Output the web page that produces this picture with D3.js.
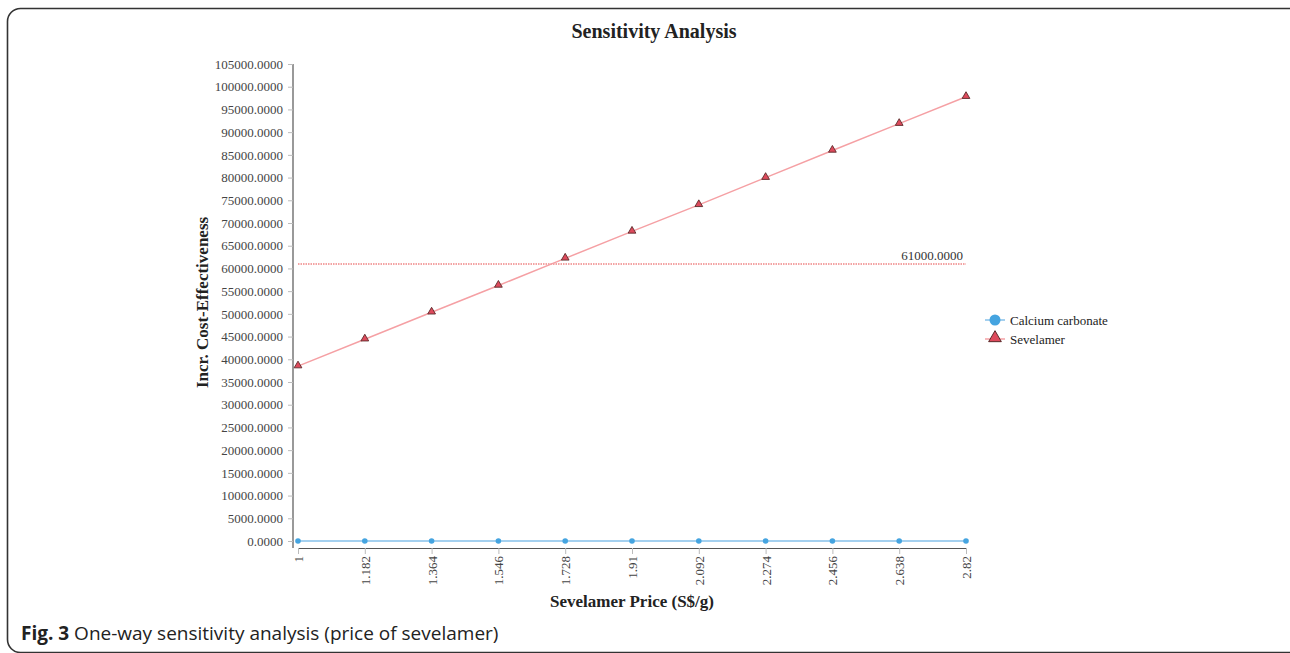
<!DOCTYPE html>
<html>
<head>
<meta charset="utf-8">
<script src="https://cdn.jsdelivr.net/npm/d3@7"></script>
<style>
  body { margin: 0; background: #fff; }
  svg { display: block; }
</style>
</head>
<body>
<div id="canvas"></div>
<script>
// data
var prices = [1, 1.182, 1.364, 1.546, 1.728, 1.91, 2.092, 2.274, 2.456, 2.638, 2.82];
var calcium = [0, 0, 0, 0, 0, 0, 0, 0, 0, 0, 0];
var sevelamer = [38500, 44420, 50350, 56250, 62220, 68150, 74000, 79980, 85970, 91870, 97800];
var threshold = 61000;
var seriesNames = ["Calcium carbonate", "Sevelamer"];

var W = 1290, H = 653;
var margin = { top: 64, left: 298, right: 966, bottom: 541 };

var svg = d3.select("#canvas").append("svg")
    .attr("width", W)
    .attr("height", H);

// frame
svg.append("rect")
    .attr("x", 7.5).attr("y", 8.5)
    .attr("width", 1300).attr("height", 644)
    .attr("rx", 13)
    .attr("fill", "none")
    .attr("stroke", "#333")
    .attr("stroke-width", 1.6);

var x = d3.scaleLinear().domain([1, 2.82]).range([margin.left, margin.right]);
var y = d3.scaleLinear().domain([0, 105000]).range([margin.bottom, margin.top]);

// title
svg.append("text")
    .attr("x", 654).attr("y", 38)
    .attr("text-anchor", "middle")
    .attr("font-family", "Liberation Serif")
    .attr("font-weight", "bold")
    .attr("font-size", "20px")
    .attr("fill", "#222")
    .text("Sensitivity Analysis");

// y axis
var yAxis = svg.append("g")
    .attr("transform", "translate(293,0)")
    .call(d3.axisLeft(y)
        .tickValues(d3.range(0, 105001, 5000))
        .tickFormat(d3.format(".4f"))
        .tickSize(5)
        .tickSizeOuter(0));
yAxis.select(".domain").attr("stroke", "#555").attr("stroke-width", 1.2)
    .attr("d", "M0," + margin.top + "V548");
yAxis.selectAll(".tick line").attr("stroke", "#bbb");
yAxis.selectAll(".tick text")
    .attr("x", -10)
    .attr("font-family", "Liberation Serif")
    .attr("font-size", "13px")
    .attr("fill", "#444");

// x axis
var xAxis = svg.append("g")
    .attr("transform", "translate(0,548)")
    .call(d3.axisBottom(x)
        .tickValues(prices)
        .tickFormat(function (d) { return String(d); })
        .tickSize(6)
        .tickSizeOuter(0));
xAxis.select(".domain").attr("stroke", "#555").attr("stroke-width", 1.2);
xAxis.selectAll(".tick line").attr("stroke", "#bbb");
xAxis.selectAll(".tick text")
    .attr("transform", "rotate(-90)")
    .attr("text-anchor", "end")
    .attr("x", -8)
    .attr("y", 0)
    .attr("dy", "0.35em")
    .attr("font-family", "Liberation Serif")
    .attr("font-size", "13px")
    .attr("fill", "#444");

// axis titles
svg.append("text")
    .attr("transform", "translate(208," + ((margin.top + margin.bottom) / 2) + ") rotate(-90)")
    .attr("text-anchor", "middle")
    .attr("font-family", "Liberation Serif")
    .attr("font-weight", "bold")
    .attr("font-size", "17px")
    .attr("fill", "#222")
    .text("Incr. Cost-Effectiveness");

svg.append("text")
    .attr("x", 632).attr("y", 607)
    .attr("text-anchor", "middle")
    .attr("font-family", "Liberation Serif")
    .attr("font-weight", "bold")
    .attr("font-size", "17px")
    .attr("fill", "#222")
    .text("Sevelamer Price (S$/g)");

// threshold line
svg.append("line")
    .attr("x1", x(1)).attr("x2", x(2.82))
    .attr("y1", y(threshold)).attr("y2", y(threshold))
    .attr("stroke", "#f08585")
    .attr("stroke-width", 1.5)
    .attr("stroke-dasharray", "1.5,1");
svg.append("text")
    .attr("x", x(2.82) - 3).attr("y", y(threshold) - 4)
    .attr("text-anchor", "end")
    .attr("font-family", "Liberation Serif")
    .attr("font-size", "13px")
    .attr("fill", "#333")
    .text(d3.format(".4f")(threshold));

var line = d3.line()
    .x(function (d) { return x(d[0]); })
    .y(function (d) { return y(d[1]); });

var calcData = prices.map(function (p, i) { return [p, calcium[i]]; });
var sevData = prices.map(function (p, i) { return [p, sevelamer[i]]; });

var blue = "#45a4e0", blueLine = "#86c1ea";
var redFill = "#de4a5c", redLine = "#f5a0a4", redStroke = "#5b2a2a";

svg.append("path").datum(calcData)
    .attr("d", line).attr("fill", "none")
    .attr("stroke", blueLine).attr("stroke-width", 1.5);
svg.selectAll("circle.calc").data(calcData).enter()
    .append("circle").attr("class", "calc")
    .attr("cx", function (d) { return x(d[0]); })
    .attr("cy", function (d) { return y(d[1]); })
    .attr("r", 2.8)
    .attr("fill", blue);

svg.append("path").datum(sevData)
    .attr("d", line).attr("fill", "none")
    .attr("stroke", redLine).attr("stroke-width", 1.5);

var tri = d3.symbol().type(d3.symbolTriangle).size(26);
svg.selectAll("path.sev").data(sevData).enter()
    .append("path").attr("class", "sev")
    .attr("transform", function (d) { return "translate(" + x(d[0]) + "," + (y(d[1]) - 0.5) + ")"; })
    .attr("d", tri)
    .attr("fill", redFill)
    .attr("stroke", redStroke)
    .attr("stroke-width", 0.9);

// legend
var legend = svg.append("g").attr("transform", "translate(985,320)");
var legItems = [
    { name: seriesNames[0], line: blueLine, type: "circle" },
    { name: seriesNames[1], line: redLine, type: "tri" }
];
legItems.forEach(function (it, i) {
    var g = legend.append("g").attr("transform", "translate(0," + (i * 19) + ")");
    g.append("line").attr("x1", 0).attr("x2", 20).attr("y1", 0).attr("y2", 0)
        .attr("stroke", it.line).attr("stroke-width", 1.5);
    if (it.type === "circle") {
        g.append("circle").attr("cx", 10).attr("cy", 0).attr("r", 5.5).attr("fill", blue);
    } else {
        g.append("path")
            .attr("transform", "translate(10,-1)")
            .attr("d", d3.symbol().type(d3.symbolTriangle).size(70))
            .attr("fill", redFill).attr("stroke", redStroke).attr("stroke-width", 1);
    }
    g.append("text")
        .attr("x", 25).attr("y", 0).attr("dy", "0.35em")
        .attr("font-family", "Liberation Serif")
        .attr("font-size", "13px")
        .attr("fill", "#222")
        .text(it.name);
});

// caption
var cap = svg.append("text")
    .attr("x", 21).attr("y", 640)
    .attr("font-family", "Open Sans")
    .attr("font-size", "19px")
    .attr("fill", "#222");
cap.append("tspan").attr("font-weight", "bold").text("Fig. 3");
cap.append("tspan").text(" One-way sensitivity analysis (price of sevelamer)");
</script>
</body>
</html>
